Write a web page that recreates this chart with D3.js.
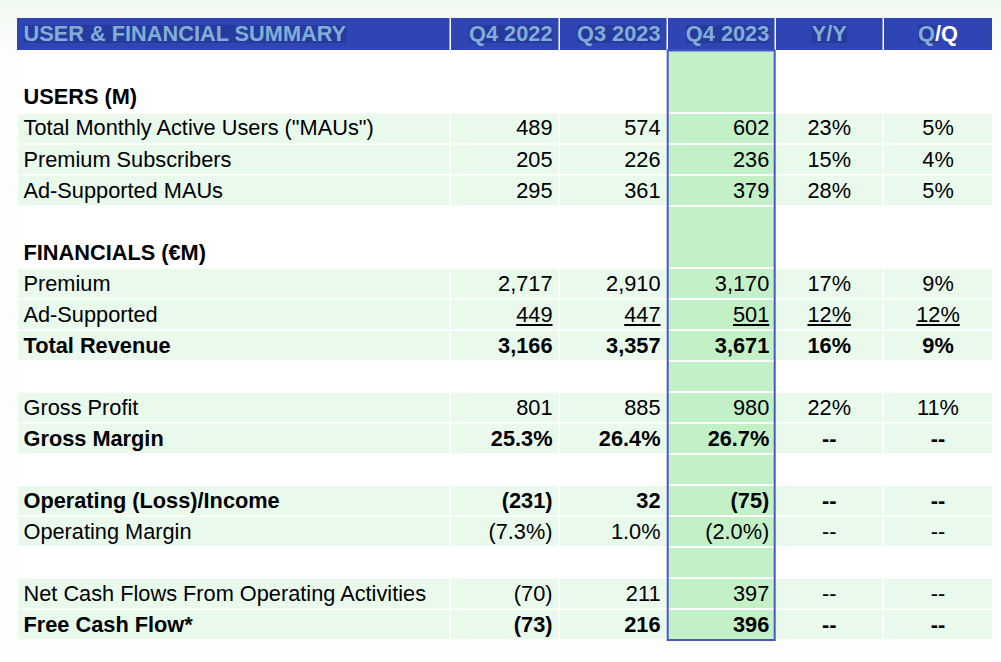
<!doctype html>
<html>
<head>
	<meta charset="utf-8">
	<title>User & Financial Summary</title>
	<script src="https://cdn.jsdelivr.net/npm/d3@7"></script>
</head>
<body>
<style type="text/css">
	html, body {
		margin: 0;
		padding: 0;
		background: #fdfdfd;
	}
	svg {
		display: block;
		font-family: "Liberation Sans", Arial, sans-serif;
	}
</style>
<svg id="chart" width="1001" height="662"></svg>

<script type="text/javascript">
	var columns = ['USER & FINANCIAL SUMMARY', 'Q4 2022', 'Q3 2023', 'Q4 2023', 'Y/Y', 'Q/Q'];
	var rowLabels = ['', 'USERS (M)', 'Total Monthly Active Users ("MAUs")', 'Premium Subscribers', 'Ad-Supported MAUs', '',
		'FINANCIALS (€M)', 'Premium', 'Ad-Supported', 'Total Revenue', '', 'Gross Profit', 'Gross Margin', '',
		'Operating (Loss)/Income', 'Operating Margin', '', 'Net Cash Flows From Operating Activities', 'Free Cash Flow*'];
	var q42022 = ['', '', '489', '205', '295', '', '', '2,717', '449', '3,166', '', '801', '25.3%', '', '(231)', '(7.3%)', '', '(70)', '(73)'];
	var q32023 = ['', '', '574', '226', '361', '', '', '2,910', '447', '3,357', '', '885', '26.4%', '', '32', '1.0%', '', '211', '216'];
	var q42023 = ['', '', '602', '236', '379', '', '', '3,170', '501', '3,671', '', '980', '26.7%', '', '(75)', '(2.0%)', '', '397', '396'];
	var yoy = ['', '', '23%', '15%', '28%', '', '', '17%', '12%', '16%', '', '22%', '--', '', '--', '--', '', '--', '--'];
	var qoq = ['', '', '5%', '4%', '5%', '', '', '9%', '12%', '9%', '', '11%', '--', '', '--', '--', '', '--', '--'];
	var boldRows = ['USERS (M)', 'FINANCIALS (€M)', 'Total Revenue', 'Gross Margin', 'Operating (Loss)/Income', 'Free Cash Flow*'];
	var underlineRows = ['Ad-Supported'];

	var W = 1001, H = 662;
	var svg = d3.select('#chart');
	var colValues = [rowLabels, q42022, q32023, q42023, yoy, qoq];
	var colEdges = [17, 451, 560, 668, 776, 884, 993.5];
	var x = d3.scaleOrdinal().domain(columns).range(colEdges.slice(0, 6));
	var colWidth = function(i) { return colEdges[i + 1] - colEdges[i] - 1.5; };
	var y = d3.scaleBand().domain(d3.range(rowLabels.length)).range([51, 640]).paddingInner(0.05).paddingOuter(0.025);
	var textX = function(i) {
		var c = columns[i];
		if (i === 0) return x(c) + 6.5;
		if (i < 4) return x(c) + colWidth(i) - (i === 3 ? 5.2 : 6);
		return x(c) + colWidth(i) / 2;
	};
	var anchor = function(i) { return i === 0 ? 'start' : (i < 4 ? 'end' : 'middle'); };

	// faint mint tint of the slide behind the table
	var defs = svg.append('defs');
	var tint = defs.append('linearGradient').attr('id', 'tint').attr('x1', 0).attr('x2', 0).attr('y1', 0).attr('y2', 1);
	tint.append('stop').attr('offset', 0).attr('stop-color', '#eef9f0');
	tint.append('stop').attr('offset', 1).attr('stop-color', '#fdfdfd');
	svg.append('rect').attr('width', W).attr('height', 50).attr('fill', 'url(#tint)');
	svg.append('rect').attr('x', 17).attr('y', 50).attr('width', 975).attr('height', 590).attr('fill', '#ffffff');

	// row fills
	rowLabels.forEach(function(label, r) {
		if (!label || colValues[1][r] === '') return;
		columns.forEach(function(c, i) {
			svg.append('rect')
				.attr('x', x(c) + (i ? 0 : 1))
				.attr('y', y(r))
				.attr('width', colWidth(i) - (i ? 0 : 1))
				.attr('height', y.bandwidth())
				.attr('fill', '#e9f9ec');
		});
	});

	// highlighted column
	svg.append('rect').attr('x', x('Q4 2023')).attr('y', 51).attr('width', 106).attr('height', 589).attr('fill', '#c4f0c8');
	d3.range(rowLabels.length).forEach(function(r) {
		if (r === 0) return;
		if (colValues[1][r] === '' && colValues[1][r - 1] === '') return;
		svg.append('rect').attr('x', x('Q4 2023')).attr('y', Math.round(y(r)) - 2).attr('width', 106)
			.attr('height', 2).attr('fill', '#ffffff');
	});

	// header
	columns.forEach(function(c, i) {
		svg.append('rect').attr('x', x(c)).attr('y', 18).attr('width', colWidth(i)).attr('height', 32).attr('fill', '#2f45b4');
	});
	var fontSize = 21.75;
	var headG = svg.append('g').attr('font-size', fontSize).attr('font-weight', 'bold');
	columns.forEach(function(c, i) {
		var t = headG.append('text')
			.attr('x', textX(i)).attr('y', 41)
			.attr('text-anchor', anchor(i))
			.attr('fill', '#82aed6');
		if (c === 'Q/Q') {
			t.append('tspan').text('Q');
			t.append('tspan').attr('fill', '#ffffff').text('/Q');
		} else {
			t.text(c);
		}
		var b = t.node().getBBox();
		var hw = c === 'Q/Q' ? b.width * 0.45 : b.width;
		headG.insert('rect', 'text').attr('x', b.x).attr('y', 25).attr('width', hw).attr('height', 18).attr('fill', '#263ba0');
	});

	// cells
	var cells = svg.append('g').attr('font-size', fontSize).attr('fill', '#000000');
	colValues.forEach(function(values, i) {
		values.forEach(function(v, r) {
			if (!v) return;
			var bold = boldRows.indexOf(rowLabels[r]) >= 0;
			var t = cells.append('text')
				.attr('x', textX(i))
				.attr('y', y(r) + y.bandwidth() / 2 + (r < 3 ? 6.5 : 7.5))
				.attr('text-anchor', anchor(i))
				.attr('font-weight', bold ? 'bold' : 'normal')
				.text(v);
			// thick underline, heavier than the browser's own
			if (i > 0 && underlineRows.indexOf(rowLabels[r]) >= 0) {
				var b = t.node().getBBox();
				cells.append('rect').attr('x', b.x).attr('y', Math.round(y(r) + y.bandwidth() / 2 + 9.5))
					.attr('width', b.width).attr('height', 2);
			}
		});
	});

	// outline of highlighted column
	svg.append('rect').attr('x', x('Q4 2023') - 0.3).attr('y', 50.5).attr('width', 107).attr('height', 589.5)
		.attr('fill', 'none').attr('stroke', '#4658c6').attr('stroke-width', 2);
</script>
</body>
</html>
